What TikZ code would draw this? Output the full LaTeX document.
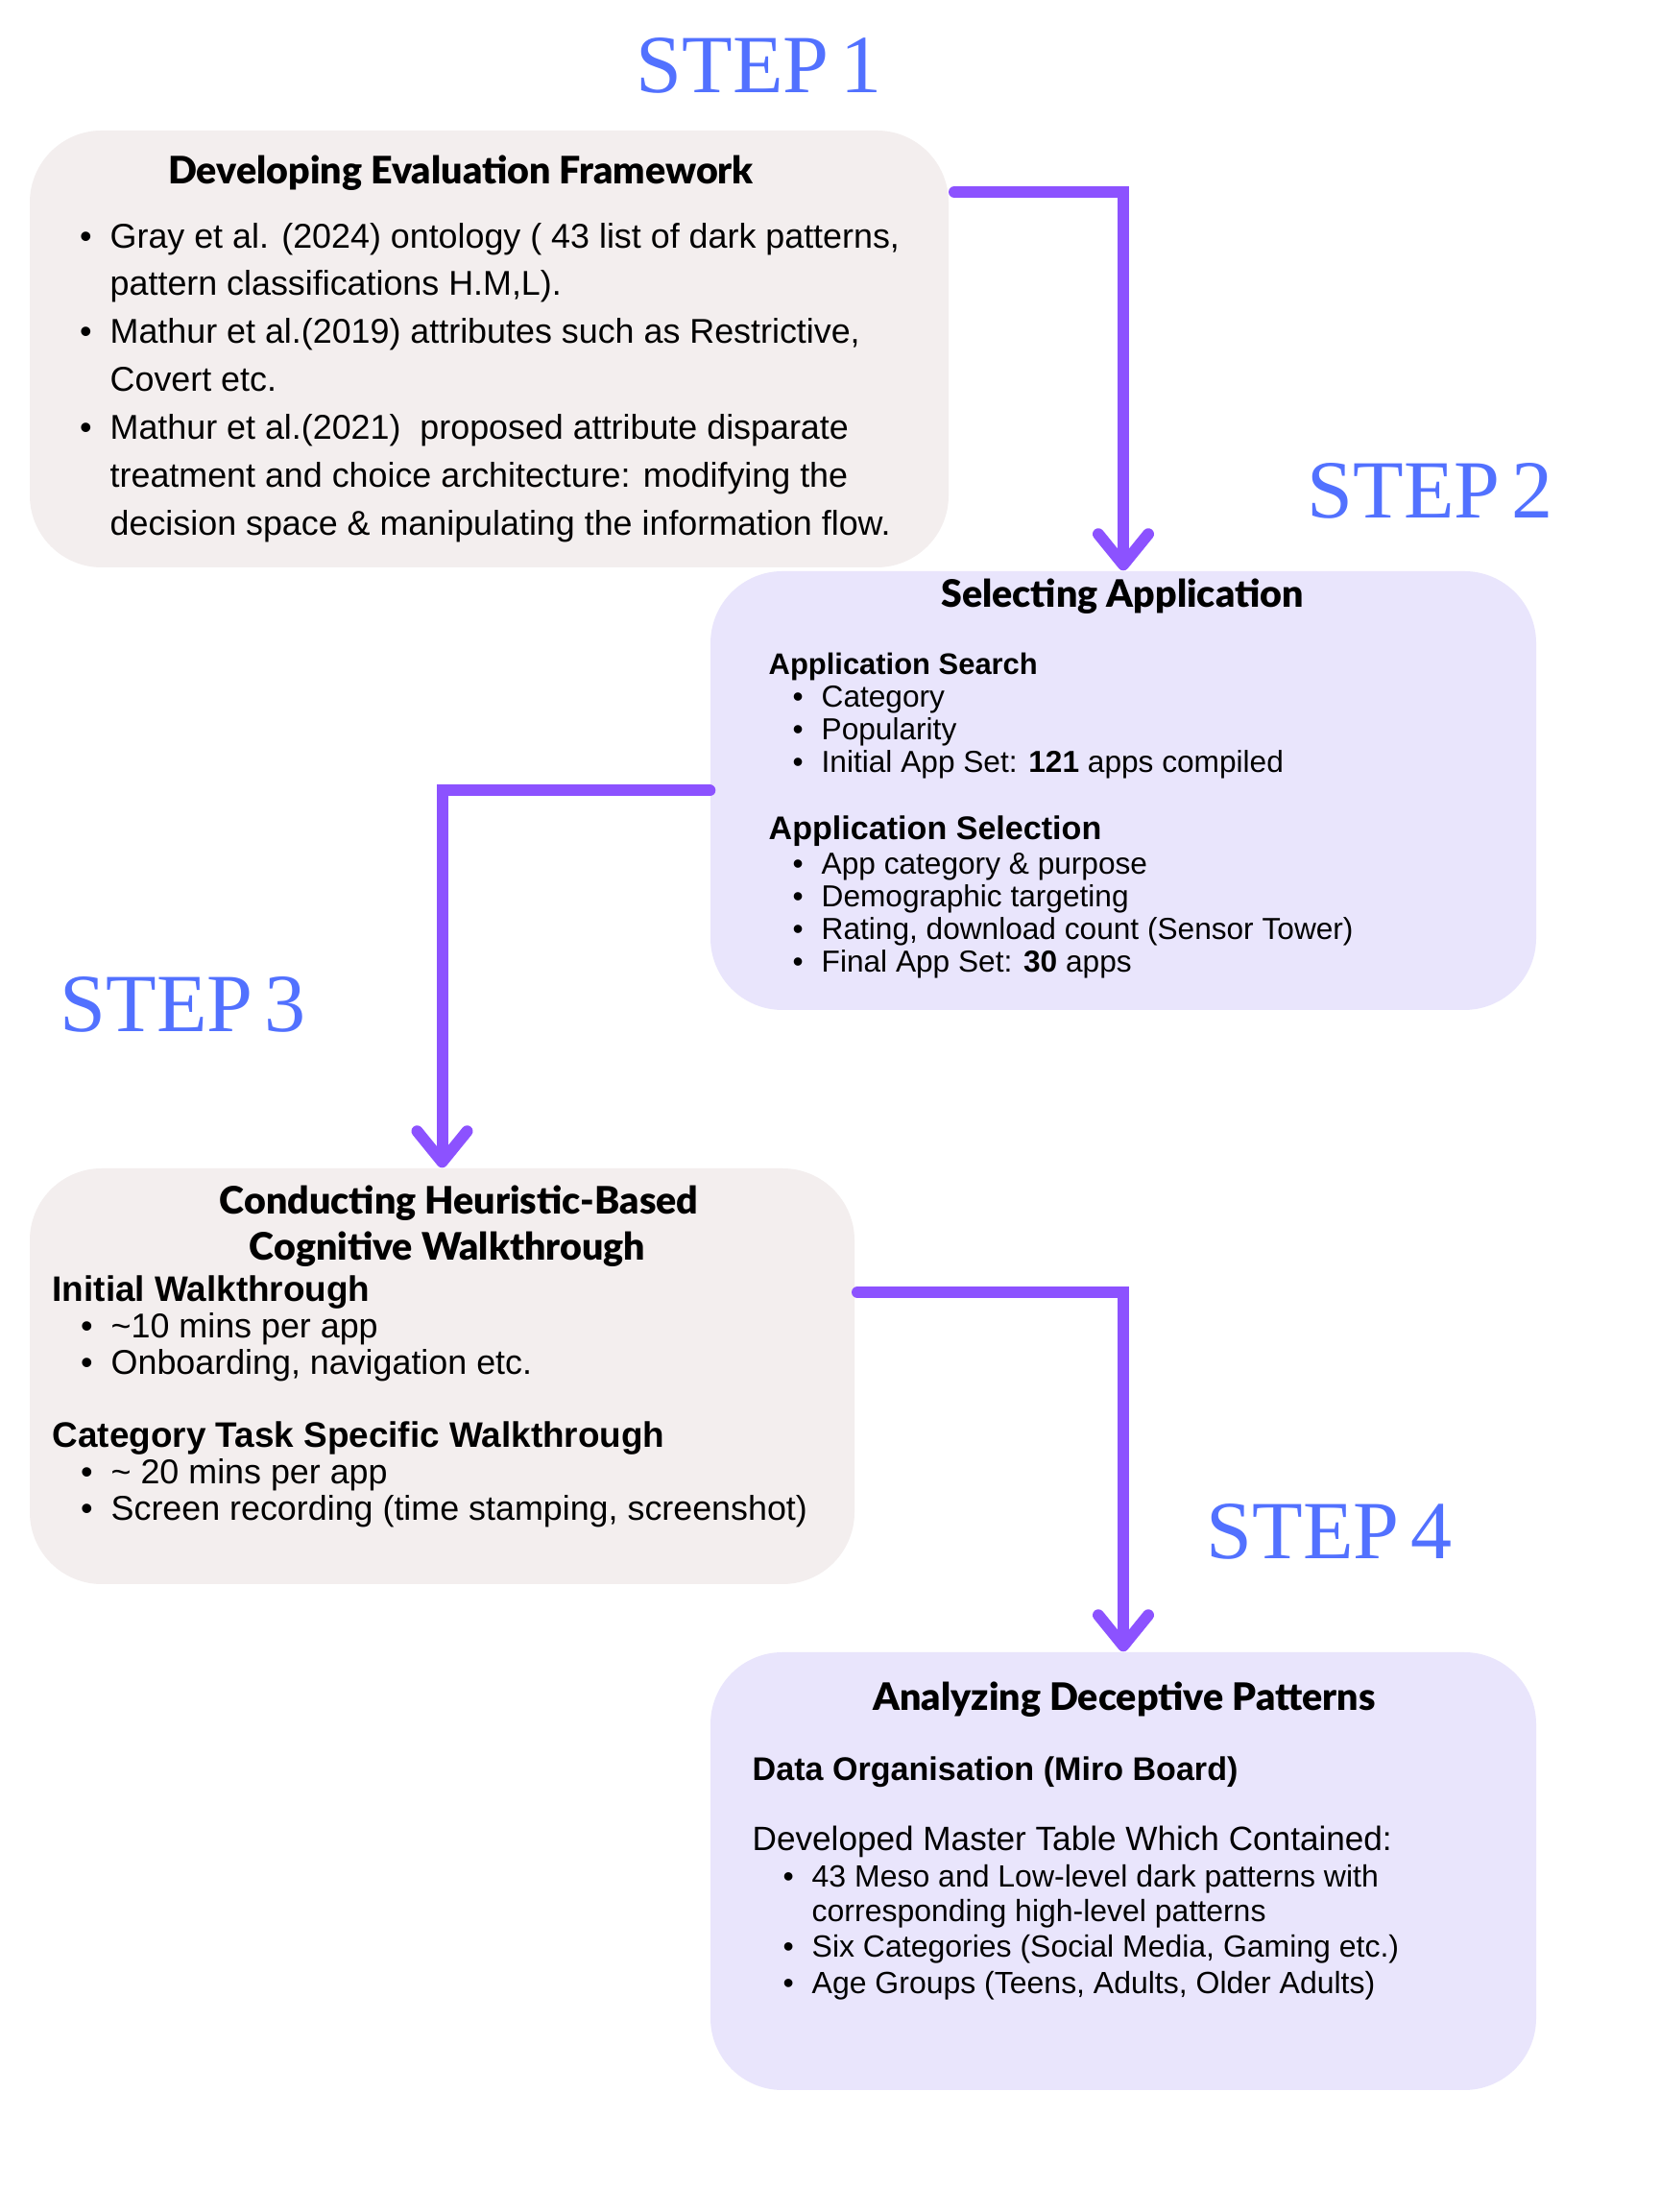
\documentclass[tikz,border=0pt]{standalone}
\usepackage{fontspec}
\setmainfont{Liberation Sans}
\newfontfamily\headfont{Lato}[BoldFont={* Black}]
\newfontfamily\stepfont{Liberation Serif}
\usetikzlibrary{arrows.meta}
\usetikzlibrary{positioning}

\definecolor{stepblue}{HTML}{5271FF}
\definecolor{flowpurple}{HTML}{8C52FF}
\definecolor{warmgray}{HTML}{F3EEEE}
\definecolor{lavender}{HTML}{E9E5FC}

\newcommand{\setsz}[1]{\fontsize{#1}{#1}\selectfont}
\newcommand{\bul}{\llap{\textbullet\hspace{0.19cm}}}
\newcommand{\stepgap}{\hspace{0.12cm}}

\begin{document}
\begin{tikzpicture}[
  panel/.style={rounded corners=0.75cm, inner sep=0pt, draw=none},
  steplabel/.style={font=\stepfont\setsz{24.5pt}, text=stepblue, anchor=base west, inner sep=0pt},
  boxtitle/.style={font=\headfont\bfseries\setsz{11.2pt}, anchor=base, inner sep=0pt},
  listline/.style={anchor=base west, inner sep=0pt},
  flow/.style={draw=flowpurple, line width=0.12cm, line cap=round,
    -{Straight Barb[round, length=0.32cm, width=0.52cm]}}
]
\useasboundingbox[fill=white] (0,0) rectangle (17.28,23.04);

% step labels
\node[steplabel] (s1) at (6.62,22.07) {STEP\stepgap1};
\node[steplabel] (s2) at (13.61,17.64) {STEP\stepgap2};
\node[steplabel] (s3) at (0.62,12.29) {STEP\stepgap3};
\node[steplabel] (s4) at (12.56,6.80) {STEP\stepgap4};

% panels
\node[panel, fill=warmgray, minimum width=9.57cm, minimum height=4.55cm] (fw) at (5.095,19.405) {};
\node[panel, fill=lavender, minimum width=8.60cm, minimum height=4.57cm] (sel) at (11.70,14.805) {};
\node[panel, fill=warmgray, minimum width=8.59cm, minimum height=4.33cm] (cog) at (4.605,8.705) {};
\node[panel, fill=lavender, minimum width=8.60cm, minimum height=4.56cm] (ana) at (11.70,3.55) {};

% step 1
\node[boxtitle] (fwt) at (4.80,21.12) {Developing Evaluation Framework};
\begin{scope}[font=\setsz{10.2pt}]
\node[listline] (fw1) at (1.14,20.45) {\bul Gray et al. (2024) ontology ( 43 list of dark patterns,};
\node[listline] (fw2) at (1.14,19.96) {pattern classifications H.M,L).};
\node[listline] (fw3) at (1.14,19.46) {\bul Mathur et al.(2019) attributes such as Restrictive,};
\node[listline] (fw4) at (1.14,18.96) {Covert etc.};
\node[listline] (fw5) at (1.14,18.46) {\bul Mathur et al.(2021)\ \ proposed attribute disparate};
\node[listline] (fw6) at (1.14,17.96) {treatment and choice architecture: modifying the};
\node[listline] (fw7) at (1.14,17.46) {decision space \& manipulating the information flow.};
\end{scope}

% step 2
\node[boxtitle] (selt) at (11.69,16.71) {Selecting Application};
\node[listline, font=\bfseries\setsz{8.8pt}] (selh1) at (8.00,16.01) {Application Search};
\node[listline, font=\bfseries\setsz{9.7pt}] (selh2) at (8.00,14.29) {Application Selection};
\begin{scope}[font=\setsz{9pt}]
\node[listline] (sel1) at (8.55,15.67) {\bul Category};
\node[listline] (sel2) at (8.55,15.33) {\bul Popularity};
\node[listline] (sel3) at (8.55,14.99) {\bul Initial App Set: \textbf{121} apps compiled};
\node[listline] (sel4) at (8.55,13.93) {\bul App category \& purpose};
\node[listline] (sel5) at (8.55,13.59) {\bul Demographic targeting};
\node[listline] (sel6) at (8.55,13.25) {\bul Rating, download count (Sensor Tower)};
\node[listline] (sel7) at (8.55,12.91) {\bul Final App Set: \textbf{30} apps};
\end{scope}

% step 3
\node[boxtitle] (cogt1) at (4.78,10.39) {Conducting Heuristic-Based};
\node[boxtitle] (cogt2) at (4.66,9.91) {Cognitive Walkthrough};
\node[listline, font=\bfseries\setsz{10.5pt}] (cogh1) at (0.54,9.48) {Initial Walkthrough};
\node[listline, font=\bfseries\setsz{10.5pt}] (cogh2) at (0.54,7.96) {Category Task Specific Walkthrough};
\begin{scope}[font=\setsz{10.2pt}]
\node[listline] (cog1) at (1.15,9.10) {\bul\textasciitilde10 mins per app};
\node[listline] (cog2) at (1.15,8.72) {\bul Onboarding, navigation etc.};
\node[listline] (cog3) at (1.15,7.58) {\bul\textasciitilde{} 20 mins per app};
\node[listline] (cog4) at (1.15,7.20) {\bul Screen recording (time stamping, screenshot)};
\end{scope}

% step 4
\node[boxtitle] (anat) at (11.71,5.22) {Analyzing Deceptive Patterns};
\node[listline, font=\bfseries\setsz{9.7pt}] (anah) at (7.83,4.49) {Data Organisation (Miro Board)};
\node[listline, font=\setsz{10pt}] (anam) at (7.83,3.76) {Developed Master Table Which Contained:};
\begin{scope}[font=\setsz{9.1pt}]
\node[listline] (ana1) at (8.45,3.38) {\bul 43 Meso and Low-level dark patterns with};
\node[listline] (ana2) at (8.45,3.02) {corresponding high-level patterns};
\node[listline] (ana3) at (8.45,2.65) {\bul Six Categories (Social Media, Gaming etc.)};
\node[listline] (ana4) at (8.45,2.27) {\bul Age Groups (Teens, Adults, Older Adults)};
\end{scope}

% connectors
\coordinate (a1) at (9.94,21.04);
\coordinate (a3) at (8.93,9.58);
\draw[flow] (a1) -| (sel.north);
\draw[flow] (sel.west) -| (cog.north);
\draw[flow] (a3) -| (ana.north);

\end{tikzpicture}
\end{document}
